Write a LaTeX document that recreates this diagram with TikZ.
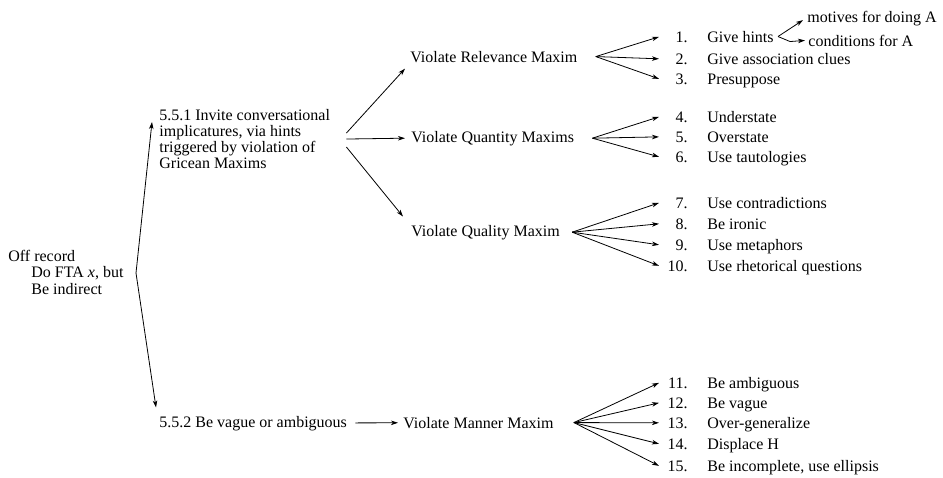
\documentclass[tikz,border=0pt]{standalone}
\usepackage{fontspec}
\setmainfont{Liberation Serif}
\usetikzlibrary{arrows.meta}
\tikzset{>={Stealth[length=7pt,width=4.5pt,inset=2pt]}}
\tikzset{
  txt/.style={inner sep=0pt, anchor=base west, font=\fontsize{16}{16}\selectfont},
  numtxt/.style={inner sep=0pt, anchor=base east, font=\fontsize{16}{16}\selectfont},
  every path/.style={line width=0.8pt}
}

\begin{document}
\begin{tikzpicture}[x=1pt,y=-1pt]
  \useasboundingbox (0,0) rectangle (943,477);

  % LEFT SIDE
  \node[txt, anchor=west, align=left, font=\fontsize{16}{16.5}\selectfont] (off) at (8,272)
    {Off record\\\hspace*{23pt}Do FTA \textit{x}, but\\\hspace*{23pt}Be indirect};
  \node[txt, anchor=north west, align=left] (inv) at (159,109)
    {5.5.1 Invite conversational\\implicatures, via hints\\triggered by violation of\\Gricean Maxims};
  \node[txt] (vag) at (159,427) {5.5.2 Be vague or ambiguous};

  % MAXIMS
  \node[txt] (rel) at (410,62)  {Violate Relevance Maxim};
  \node[txt] (qty) at (411,142) {Violate Quantity Maxims};
  \node[txt] (qly) at (411,236) {Violate Quality Maxim};
  \node[txt] (man) at (403,428) {Violate Manner Maxim};

  % STRATEGIES
  \node[numtxt] (n1)  at (688,42)  {1.};  \node[txt] (t1)  at (707,42)  {Give hints};
  \node[numtxt] (n2)  at (688,64)  {2.};  \node[txt] (t2)  at (707,64)  {Give association clues};
  \node[numtxt] (n3)  at (688,84)  {3.};  \node[txt] (t3)  at (707,84)  {Presuppose};
  \node[numtxt] (n4)  at (688,122) {4.};  \node[txt] (t4)  at (707,122) {Understate};
  \node[numtxt] (n5)  at (688,142) {5.};  \node[txt] (t5)  at (707,142) {Overstate};
  \node[numtxt] (n6)  at (688,162) {6.};  \node[txt] (t6)  at (707,162) {Use tautologies};
  \node[numtxt] (n7)  at (688,208) {7.};  \node[txt] (t7)  at (707,208) {Use contradictions};
  \node[numtxt] (n8)  at (688,229) {8.};  \node[txt] (t8)  at (707,229) {Be ironic};
  \node[numtxt] (n9)  at (688,250) {9.};  \node[txt] (t9)  at (707,250) {Use metaphors};
  \node[numtxt] (n10) at (688,271) {10.}; \node[txt] (t10) at (707,271) {Use rhetorical questions};
  \node[numtxt] (n11) at (688,388) {11.}; \node[txt] (t11) at (707,388) {Be ambiguous};
  \node[numtxt] (n12) at (688,408) {12.}; \node[txt] (t12) at (707,408) {Be vague};
  \node[numtxt] (n13) at (688,428) {13.}; \node[txt] (t13) at (707,428) {Over-generalize};
  \node[numtxt] (n14) at (688,449) {14.}; \node[txt] (t14) at (707,449) {Displace H};
  \node[numtxt] (n15) at (688,471) {15.}; \node[txt] (t15) at (707,471) {Be incomplete, use ellipsis};

  \node[txt] (mot)  at (807,22) {motives for doing A};
  \node[txt] (cond) at (808,46) {conditions for A};

  % fan points
  \coordinate (fork)  at (136,273);
  \coordinate (inv-o) at ([xshift=16pt]inv.east);
  \coordinate (rel-o) at ([xshift=18pt]rel.east);
  \coordinate (qty-o) at ([xshift=18pt]qty.east);
  \coordinate (qly-o) at ([xshift=12pt]qly.east);
  \coordinate (man-o) at ([xshift=20pt]man.east);
  \coordinate (hint-o) at ([xshift=4pt]t1.east);
  \coordinate (tipx)  at (659,0);

  % ARROWS
  \draw[->] (fork) -- ([xshift=-7pt,yshift=-13pt]inv.north west);
  \draw[->] (fork) -- ([xshift=-3pt,yshift=8pt]vag.north west);

  \draw[->] ([yshift=6pt]inv-o) -- ([xshift=-5pt,yshift=-6pt]rel.south west);
  \draw[->] (inv-o) -- ([xshift=-6pt]qty.west);
  \draw[->] ([yshift=-8pt]inv-o) -- ([xshift=-8pt,yshift=8pt]qly.north west);
  \draw[->, shorten <=8pt, shorten >=5pt] (vag) -- (man);

  \draw[->] (rel-o) -- (n1 -| tipx);
  \draw[->] (rel-o) -- (n2 -| tipx);
  \draw[->] (rel-o) -- (n3 -| tipx);
  \draw[->] (qty-o) -- (n4 -| tipx);
  \draw[->] (qty-o) -- (n5 -| tipx);
  \draw[->] (qty-o) -- (n6 -| tipx);
  \draw[->] (qly-o) -- (n7 -| tipx);
  \draw[->] (qly-o) -- (n8 -| tipx);
  \draw[->] (qly-o) -- (n9 -| tipx);
  \draw[->] (qly-o) -- (n10 -| tipx);
  \draw[->] (man-o) -- (n11 -| tipx);
  \draw[->] (man-o) -- (n12 -| tipx);
  \draw[->] (man-o) -- (n13 -| tipx);
  \draw[->] (man-o) -- (n14 -| tipx);
  \draw[->] (man-o) -- (n15 -| tipx);

  \draw[->] (hint-o) -- ([xshift=-4pt,yshift=-2pt]mot.west);
  \draw[->] (hint-o) -- ++(12,5) -- ([xshift=-3pt]cond.west);
\end{tikzpicture}
\end{document}
